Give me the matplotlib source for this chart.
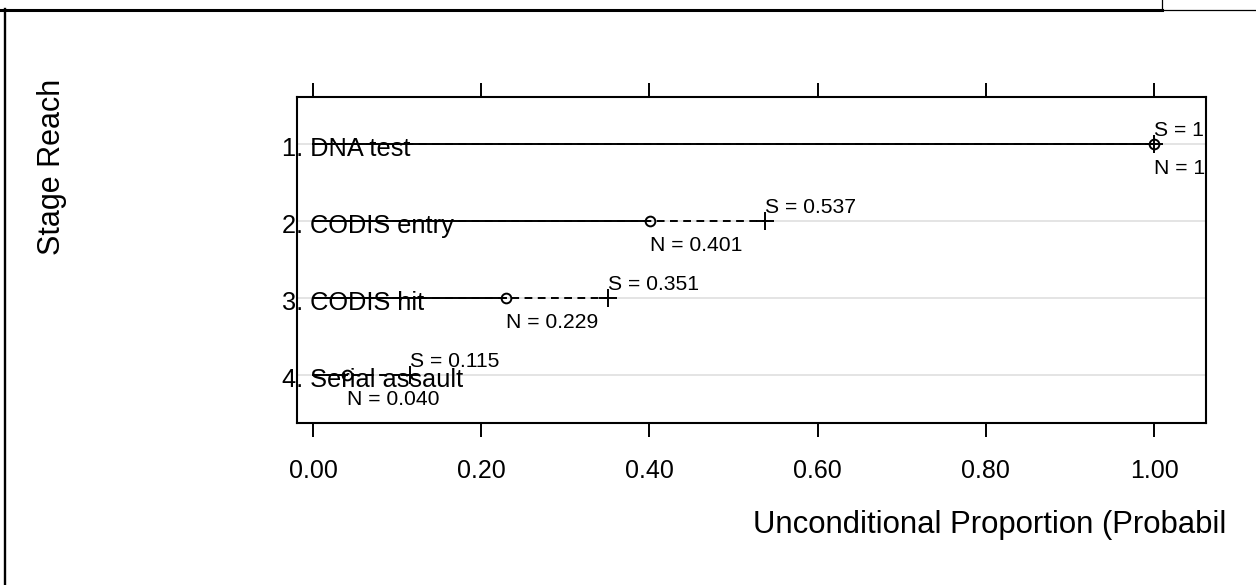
import matplotlib
matplotlib.use('Agg')
import matplotlib.pyplot as plt
from matplotlib.lines import Line2D

plt.rcParams['font.family'] = ['Liberation Sans', 'DejaVu Sans']

# data
stages = ['1. DNA test', '2. CODIS entry', '3. CODIS hit', '4. Serial assault']
n_vals = [1.000, 0.401, 0.229, 0.040]
s_vals = [1.000, 0.537, 0.351, 0.115]
n_text = ['N = 1.000', 'N = 0.401', 'N = 0.229', 'N = 0.040']
s_text = ['S = 1.000', 'S = 0.537', 'S = 0.351', 'S = 0.115']
xticks = [0.0, 0.2, 0.4, 0.6, 0.8, 1.0]
rows = [1, 2, 3, 4]

W, H = 1256, 585
fig = plt.figure(figsize=(W / 100, H / 100), dpi=100)
ax = fig.add_axes([297 / W, 1 - 423 / H, (1206 - 297) / W, (423 - 97) / H])

px = 72 / 100  # points per pixel

for y in rows:
    ax.axhline(y, color='#e2e2e2', lw=1.3, zorder=0)

for i, y in enumerate(rows):
    n = n_vals[i]
    s = s_vals[i]
    ax.plot([0, n], [y, y], color='black', lw=1.4, zorder=2)
    ax.plot([0, s], [y, y], color='black', lw=1.4, linestyle=(0, (4, 2.8)), zorder=3)
    ax.plot([n], [y], marker='o', ms=7, mfc='none', mec='black', mew=1.4, zorder=4)
    ax.plot([s], [y], marker='+', ms=12.5, mec='black', mew=1.4, zorder=4)
    ax.annotate(s_text[i], (s, y), xytext=(0, 8 * px), textcoords='offset points',
                ha='left', va='baseline', fontsize=15.2, clip_on=True)
    ax.annotate(n_text[i], (n, y), xytext=(0, -30 * px), textcoords='offset points',
                ha='left', va='baseline', fontsize=15.2, clip_on=True)
    ax.annotate(stages[i], (0, y), xytext=(-31 * px, -12 * px), textcoords='offset points',
                ha='left', va='baseline', fontsize=18.3, clip_on=False, zorder=1)

ax.set_xlim(-0.019, 1.0618)
ax.set_ylim(4.625, 0.382)
ax.set_xticks(xticks)
ax.set_xticklabels(['%.2f' % t for t in xticks])
ax.set_yticks([])
ax.tick_params(axis='x', which='both', top=True, bottom=True, direction='out',
               length=10, width=1.4, labelsize=18, pad=16)
for sp in ax.spines.values():
    sp.set_linewidth(1.5)

fig.text(52 / W, 1 - 167 / H, 'Stage Reach', rotation=90, ha='center', va='center', fontsize=22)
fig.text(753 / W, 52 / H, 'Unconditional Proportion (Probabil', ha='left', va='baseline', fontsize=22.4)

# outer frame pieces from the source page
def fl(x0, y0, x1, y1, lw):
    fig.add_artist(Line2D([x0 / W, x1 / W], [1 - y0 / H, 1 - y1 / H], color='black',
                          lw=lw, transform=fig.transFigure))

fl(0, 9.5, 1162, 9.5, 2.2)
fl(1162, 10, W, 10, 0.9)
fl(1162, 0, 1162, 10, 0.9)
fl(4.5, 9, 4.5, H, 1.7)

fig.savefig('out.png', dpi=100)
